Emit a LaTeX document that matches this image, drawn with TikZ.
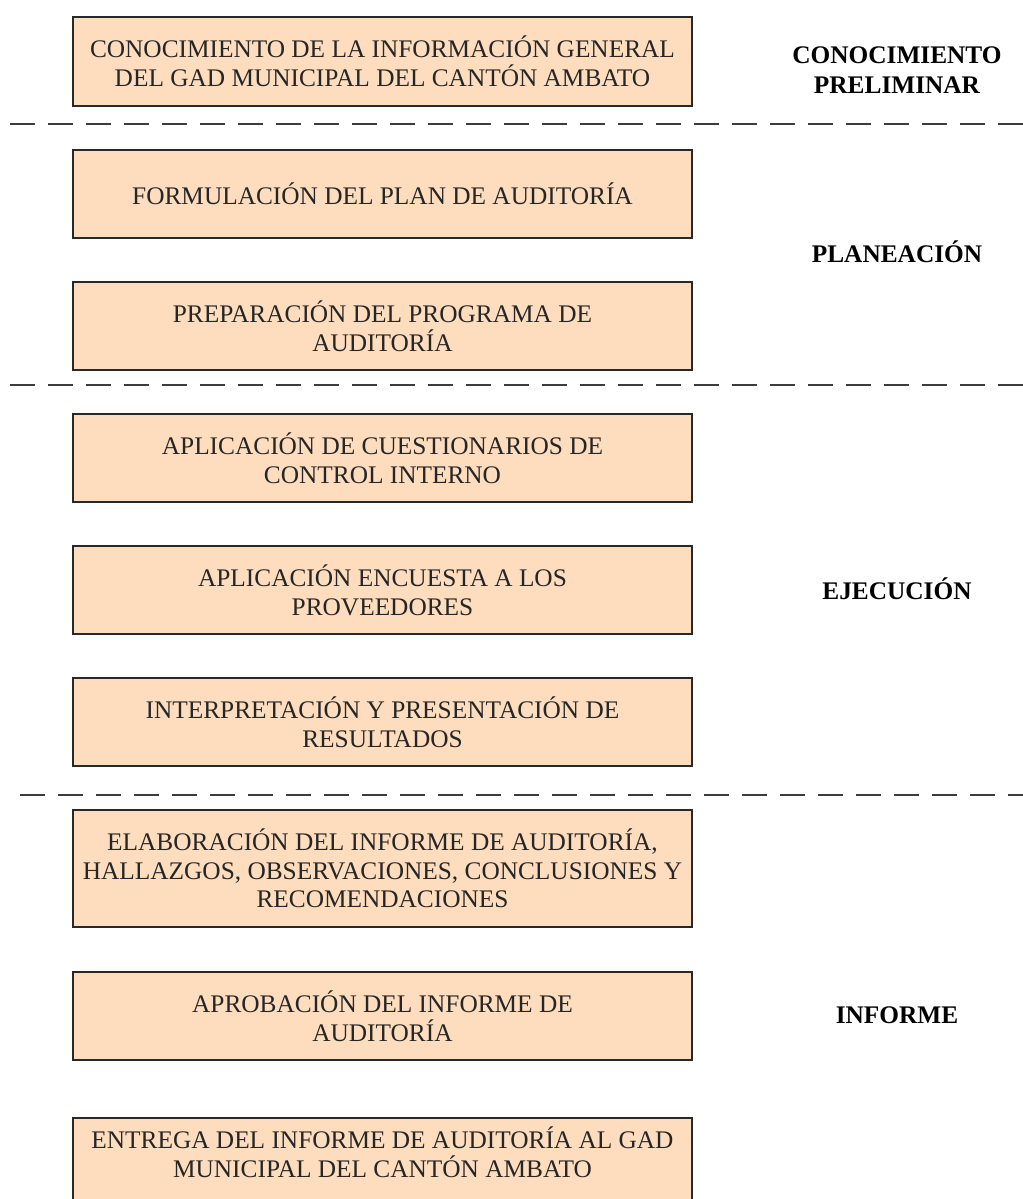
\documentclass[tikz,border=0pt]{standalone}
\usepackage{fontspec}
\setmainfont{Liberation Serif}
\definecolor{boxfill}{RGB}{253,221,190}
\definecolor{boxline}{RGB}{40,40,40}
\definecolor{sepline}{RGB}{60,60,60}
\begin{document}
\begin{tikzpicture}[x=0.75pt,y=-0.75pt,
  stepbox/.style={draw=boxline,line width=1pt,fill=boxfill,minimum width=619*0.75pt,
    align=center,font=\fontsize{19}{21.5}\selectfont,inner sep=0pt,text=black!85},
  steptext/.style={align=center,font=\fontsize{19}{21.5}\selectfont,inner sep=0pt,text=black!85},
  phase/.style={align=center,font=\fontsize{19}{22.5}\selectfont\bfseries},
  sep/.style={sepline,line width=1.2pt,dash pattern=on 19pt off 9.5pt}]
\useasboundingbox (0,0) rectangle (1023,1199);
\clip (0,0) rectangle (1023,1199);
\node[stepbox,minimum height=89*0.75pt] (b1) at (382.5,61.5) {CONOCIMIENTO DE LA INFORMACIÓN GENERAL\\DEL GAD MUNICIPAL DEL CANTÓN AMBATO};
\node[stepbox,minimum height=88*0.75pt] (b2) at (382.5,194) {FORMULACIÓN DEL PLAN DE AUDITORÍA};
\node[stepbox,minimum height=88*0.75pt] (b3) at (382.5,326) {PREPARACIÓN DEL PROGRAMA DE\\AUDITORÍA};
\node[stepbox,minimum height=88*0.75pt] (b4) at (382.5,458) {APLICACIÓN DE CUESTIONARIOS DE\\CONTROL INTERNO};
\node[stepbox,minimum height=88*0.75pt] (b5) at (382.5,590) {APLICACIÓN ENCUESTA A LOS\\PROVEEDORES};
\node[stepbox,minimum height=88*0.75pt] (b6) at (382.5,722) {INTERPRETACIÓN Y PRESENTACIÓN DE\\RESULTADOS};
\node[stepbox,minimum height=117*0.75pt] (b7) at (382.5,868.5) {ELABORACIÓN DEL INFORME DE AUDITORÍA,\\HALLAZGOS, OBSERVACIONES, CONCLUSIONES Y\\RECOMENDACIONES};
\node[stepbox,minimum height=88*0.75pt] (b8) at (382.5,1016) {APROBACIÓN DEL INFORME DE\\AUDITORÍA};
\node[stepbox,minimum height=88*0.75pt] (b9) at (382.5,1162) {};
\node[steptext] (b9t) at (382.5,1152) {ENTREGA DEL INFORME DE AUDITORÍA AL GAD\\MUNICIPAL DEL CANTÓN AMBATO};
\node[phase] (p1) at (897,70) {CONOCIMIENTO\\PRELIMINAR};
\node[phase] (p2) at (897,252) {PLANEACIÓN};
\node[phase] (p3) at (897,589) {EJECUCIÓN};
\node[phase] (p4) at (897,1015) {INFORME};
\coordinate (s1a) at (10,124); \coordinate (s1b) at (1023,124);
\coordinate (s2a) at (10,385); \coordinate (s2b) at (1023,385);
\coordinate (s3a) at (20,795); \coordinate (s3b) at (1023,795);
\draw[sep] (s1a) -- (s1b);
\draw[sep] (s2a) -- (s2b);
\draw[sep] (s3a) -- (s3b);
\end{tikzpicture}
\end{document}
